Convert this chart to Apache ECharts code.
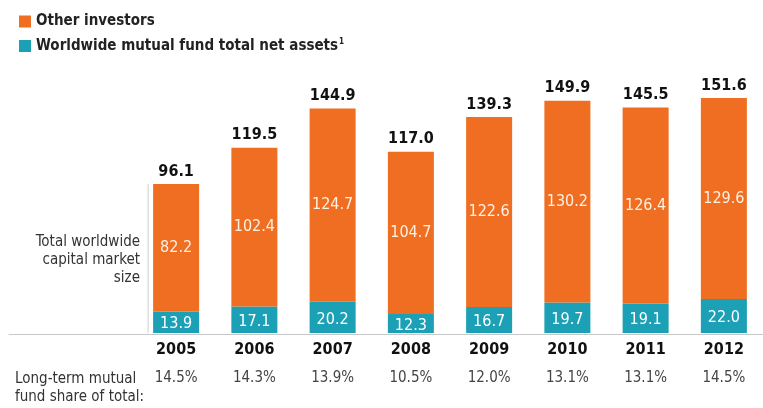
<!DOCTYPE html>
<html><head><meta charset="utf-8">
<script src="https://cdn.jsdelivr.net/npm/echarts@6/dist/echarts.min.js"></script>
<style>html,body{margin:0;padding:0;background:#fff}#c{width:763px;height:408px}</style>
</head><body><div id="c"></div>
<script>
const years = ['2005','2006','2007','2008','2009','2010','2011','2012'];
const mutualFunds = [13.9,17.1,20.2,12.3,16.7,19.7,19.1,22.0];
const otherInvestors = [82.2,102.4,124.7,104.7,122.6,130.2,126.4,129.6];
const totals = [96.1,119.5,144.9,117.0,139.3,149.9,145.5,151.6];
const fundShare = ['14.5%','14.3%','13.9%','10.5%','12.0%','13.1%','13.1%','14.5%'];

const FONT = '"DejaVu Sans Condensed","Liberation Sans Narrow",sans-serif';
const ORANGE = '#EF6E21';
const TEAL = '#1BA0B6';

const chart = echarts.init(document.getElementById('c'));
chart.setOption({
  animation:false,
  textStyle:{fontFamily:FONT},
  legend:{
    orient:'vertical', left:14, top:9, itemGap:9, itemWidth:12, itemHeight:12, icon:'rect',
    data:['Other investors','Worldwide mutual fund total net assets'],
    formatter: n => n.startsWith('Worldwide') ? n + '{sup|1}' : n,
    textStyle:{fontFamily:FONT, fontSize:15, fontWeight:'bold', color:'#222',
      rich:{sup:{fontFamily:FONT,fontSize:8,fontWeight:'bold',color:'#222',padding:[0,0,8,1]}}}
  },
  grid:[
    {left:137, width:632, top:85, bottom:75},
    {left:9, right:0, top:85, bottom:74}
  ],
  xAxis:[
    {type:'category', gridIndex:0, data:years,
     axisLine:{show:false}, axisTick:{show:false},
     axisLabel:{margin:3, interval:0,
       formatter:(v,i)=>'{y|'+v+'}\n{p|'+fundShare[i]+'}',
       rich:{
         y:{fontFamily:FONT,fontSize:16,fontWeight:'bold',color:'#111',lineHeight:28},
         p:{fontFamily:FONT,fontSize:15,color:'#444',lineHeight:28}
       }}},
    {type:'value', gridIndex:1, min:0, max:1, axisLine:{show:true,lineStyle:{color:'#c8c8c8',width:1}},
     axisTick:{show:false}, axisLabel:{show:false}, splitLine:{show:false}}
  ],
  yAxis:[
    {type:'value', gridIndex:0, min:0, max:160, show:false, splitLine:{show:false}},
    {type:'value', gridIndex:1, min:0, max:1, show:false}
  ],
  series:[
    {name:'Worldwide mutual fund total net assets', type:'bar', stack:'t', barWidth:46,
     data:mutualFunds, itemStyle:{color:TEAL},
     label:{show:true, position:'inside', color:'#fff', fontFamily:FONT, fontSize:16, offset:[0,2],
       formatter:p=>p.value.toFixed(1)}},
    {name:'Other investors', type:'bar', stack:'t', barWidth:46,
     data:otherInvestors, itemStyle:{color:ORANGE},
     label:{show:true, position:'inside', color:'#FFF1E4', fontFamily:FONT, fontSize:16,
       formatter:p=>p.value.toFixed(1)}},
    {name:'Total', type:'line', data:totals, symbol:'circle', symbolSize:1,
     itemStyle:{color:'rgba(0,0,0,0)'}, lineStyle:{opacity:0}, silent:true, z:5,
     label:{show:true, position:'top', distance:4, color:'#111', fontFamily:FONT, fontSize:16, fontWeight:'bold',
       formatter:p=>p.value.toFixed(1)}}
  ]
});

const top0 = chart.convertToPixel({gridIndex:0}, [0, totals[0]]);
const base0 = chart.convertToPixel({gridIndex:0}, [0, 0]);
chart.setOption({
  graphic:[
    {type:'line', shape:{x1:top0[0]-28, y1:top0[1], x2:top0[0]-28, y2:base0[1]},
     style:{stroke:'#cfcfcf', lineWidth:1}},
    {type:'text', x:140, y:233, style:{text:'Total worldwide\ncapital market\nsize', align:'right',
      font:'15px '+FONT, fill:'#333', lineHeight:18}},
    {type:'text', x:15, y:370, style:{text:'Long-term mutual\nfund share of total:', align:'left',
      font:'15px '+FONT, fill:'#333', lineHeight:18}}
  ]
});
</script></body></html>
